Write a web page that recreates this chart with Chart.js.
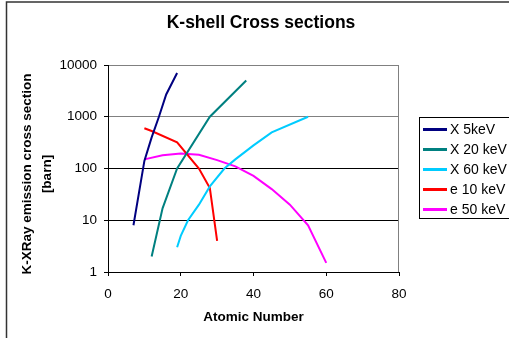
<!DOCTYPE html>
<html>
<head>
<meta charset="utf-8">
<title>K-shell Cross sections</title>
<script src="https://cdn.jsdelivr.net/npm/chart.js@4/dist/chart.umd.min.js"></script>
<style>
  html, body { margin: 0; padding: 0; background: #fff; }
</style>
</head>
<body>
<canvas id="chart" width="509" height="338"></canvas>
<script>
// atomic number (Z) and K-XRay emission cross section in barn, per beam
const x5Z  = [7, 10, 12, 14, 16, 19];
const x5   = [8, 140, 400, 1000, 2700, 7000];
const x20Z = [12, 15, 19, 28, 38];
const x20  = [2, 17, 100, 1000, 5000];
const x60Z = [19, 20, 22, 25, 28, 32, 35, 40, 45, 55];
const x60  = [3, 5, 10, 20, 45, 100, 150, 280, 500, 1000];
const e10Z = [10, 12, 19, 25, 28, 30];
const e10  = [600, 530, 320, 100, 42, 4];
const e50Z = [10, 15, 20, 25, 30, 35, 40, 45, 50, 55, 60];
const e50  = [150, 180, 195, 185, 145, 110, 72, 40, 20, 8, 1.5];

const seriesNames = ['X 5keV', 'X 20 keV', 'X 60 keV', 'e 10 keV', 'e 50 keV'];
const yTicks = [1, 10, 100, 1000, 10000];

const chartTitle = 'K-shell Cross sections';
const yTitle = ['K-XRay emission cross section', '[barn]'];

const FONT = '"Liberation Sans", Arial, sans-serif';

function pts(zs, vs) {
  return zs.map((z, i) => ({x: z, y: vs[i]}));
}

function line(label, color, data) {
  return {
    label: label,
    data: data,
    borderColor: color,
    backgroundColor: color,
    borderWidth: 2,
    pointRadius: 0,
    tension: 0,
    fill: false
  };
}

// white page, outer frame, chart title and the rotated y title
const frame = {
  id: 'frame',
  beforeDraw(chart) {
    const c = chart.ctx;
    c.save();
    c.fillStyle = '#fff';
    c.fillRect(0, 0, chart.width, chart.height);
    c.strokeStyle = '#333';
    c.lineWidth = 1.5;
    c.beginPath();
    c.moveTo(6.5, chart.height + 2);
    c.lineTo(6.5, 2);
    c.lineTo(chart.width + 2, 2);
    c.stroke();

    c.fillStyle = '#000';
    c.textAlign = 'center';
    c.textBaseline = 'middle';
    c.font = 'bold 17.5px ' + FONT;
    c.fillText(chartTitle, 261, 23);

    c.font = 'bold 13.5px ' + FONT;
    c.translate(27, 174);
    c.rotate(-Math.PI / 2);
    yTitle.forEach((t, i) => c.fillText(t, 0, i * 20));
    c.restore();
  },
  beforeDatasetsDraw(chart) {
    const a = chart.chartArea;
    const c = chart.ctx;
    c.save();
    c.strokeStyle = '#808080';
    c.lineWidth = 1;
    c.beginPath();
    c.moveTo(Math.round(a.right) - 0.5, a.top);
    c.lineTo(Math.round(a.right) - 0.5, a.bottom);
    c.stroke();
    c.restore();
  }
};

// boxed legend to the right of the plot
const boxLegend = {
  id: 'boxLegend',
  afterDraw(chart) {
    const c = chart.ctx;
    c.save();
    c.strokeStyle = '#000';
    c.lineWidth = 1;
    c.strokeRect(419.5, 117.5, 100, 101);
    c.font = '14px ' + FONT;
    c.textBaseline = 'middle';
    c.textAlign = 'left';
    chart.data.datasets.forEach((ds, i) => {
      const y = 129.5 + i * 20;
      c.strokeStyle = ds.borderColor;
      c.lineWidth = 3;
      c.beginPath();
      c.moveTo(423, y);
      c.lineTo(447, y);
      c.stroke();
      c.fillStyle = '#000';
      c.fillText(ds.label, 450, y + 1);
    });
    c.restore();
  }
};

new Chart(document.getElementById('chart'), {
  type: 'line',
  data: {
    datasets: [
      line(seriesNames[0], '#000080', pts(x5Z, x5)),
      line(seriesNames[1], '#008080', pts(x20Z, x20)),
      line(seriesNames[2], '#00CCFF', pts(x60Z, x60)),
      line(seriesNames[3], '#FF0000', pts(e10Z, e10)),
      line(seriesNames[4], '#FF00FF', pts(e50Z, e50))
    ]
  },
  options: {
    responsive: false,
    animation: false,
    layout: { padding: { left: 0, right: 110, top: 65, bottom: 0 } },
    plugins: {
      legend: { display: false },
      tooltip: { enabled: false },
      title: { display: false }
    },
    scales: {
      x: {
        type: 'linear',
        min: 0,
        max: 80,
        afterFit(scale) { scale.height = 66; },
        ticks: {
          stepSize: 20,
          color: '#000',
          padding: 10,
          font: { family: FONT, size: 13.5 }
        },
        grid: {
          drawOnChartArea: false,
          drawTicks: true,
          tickLength: 4,
          color: '#000'
        },
        border: { color: '#000', width: 1 },
        title: {
          display: true,
          text: 'Atomic Number',
          color: '#000',
          font: { family: FONT, size: 13.5, weight: 'bold', lineHeight: 1.2 },
          padding: { top: 0, bottom: 13 }
        }
      },
      y: {
        type: 'logarithmic',
        min: 1,
        max: 10000,
        afterFit(scale) { scale.width = 108; },
        afterBuildTicks(scale) {
          scale.ticks = yTicks.map(v => ({ value: v }));
        },
        ticks: {
          color: '#000',
          padding: 7,
          font: { family: FONT, size: 13.5 },
          callback: v => String(v)
        },
        grid: {
          color: ctx => (ctx.tick && ctx.tick.value >= 1000) ? '#808080' : '#000',
          tickColor: '#000',
          tickLength: 4,
          lineWidth: 1
        },
        border: { color: '#000', width: 1 },
        title: { display: false }
      }
    }
  },
  plugins: [frame, boxLegend]
});
</script>
</body>
</html>
